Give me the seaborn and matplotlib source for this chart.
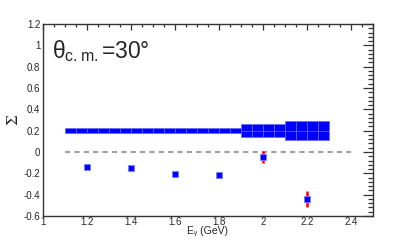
import numpy as np
import pandas as pd
import seaborn as sns
import matplotlib
matplotlib.use("Agg")
import matplotlib.pyplot as plt
from matplotlib.ticker import MultipleLocator

sns.set_theme(style="white")
plt.rcParams['font.family'] = ['Liberation Sans', 'DejaVu Sans']
plt.rcParams['mathtext.fontset'] = 'custom'
plt.rcParams['mathtext.rm'] = 'Liberation Sans'
plt.rcParams['mathtext.it'] = 'Liberation Sans:italic'

# measured beam-asymmetry points
e_gamma = [1.2, 1.4, 1.6, 1.8, 2.0, 2.2]
sigma = [-0.14, -0.15, -0.21, -0.22, -0.05, -0.44]
sigma_err = [0.02, 0.02, 0.02, 0.025, 0.055, 0.073]

# systematic band (segments)
band_lo = [1.1, 1.5, 1.9, 2.1]
band_hi = [1.5, 1.9, 2.1, 2.3]
band_center = [0.2, 0.2, 0.2, 0.2]
band_err = [0.022, 0.025, 0.058, 0.09]
band_bin = 0.05

df = pd.DataFrame({'E': e_gamma, 'Sigma': sigma, 'err': sigma_err})

fig = plt.figure(figsize=(4.15, 2.4), dpi=100)
ax = fig.add_axes([0.1036, 0.1, 0.7952, 0.8])

# systematic band drawn as small filled bins
for lo, hi, c, e in zip(band_lo, band_hi, band_center, band_err):
    lefts = np.arange(lo, hi - 1e-9, band_bin)
    ax.bar(lefts, 2 * e, width=band_bin, bottom=c - e, align='edge',
           color='#0000ff', edgecolor='#6868ff', linewidth=0.5, zorder=2)
ax.hlines(band_center[2], band_lo[2], band_hi[-1], color='#6868ff', lw=0.5, zorder=3)

# zero line
ax.hlines(0, band_lo[0], 2.4, color='#a0a0a0', lw=1.5, linestyles=(0, (2.5, 2)), zorder=1)

# data points
ax.errorbar(df['E'], df['Sigma'], yerr=df['err'], fmt='none',
            ecolor='#ff0000', elinewidth=1.8, capsize=0, zorder=4)
sns.scatterplot(data=df, x='E', y='Sigma', marker='s', s=24, color='#0000ff',
                edgecolor='#8080ff', linewidth=0.6, ax=ax, zorder=5)

ax.set_xlim(1.0, 2.5)
ax.set_ylim(-0.6, 1.2)
ax.xaxis.set_minor_locator(MultipleLocator(0.05))
ax.yaxis.set_minor_locator(MultipleLocator(0.04))
ax.set_xticks(np.arange(1.0, 2.41, 0.2))
ax.set_xticklabels(['1', '1.2', '1.4', '1.6', '1.8', '2', '2.2', '2.4'])
ax.set_yticks(np.arange(-0.6, 1.21, 0.2))
ax.set_yticklabels(['-0.6', '-0.4', '-0.2', '0', '0.2', '0.4', '0.6', '0.8', '1', '1.2'])

ax.tick_params(which='both', direction='in', top=True, right=True, labelsize=7,
               color='#333333', pad=2)
ax.tick_params(axis='x', pad=1)
ax.tick_params(axis='y', which='major', length=7, width=0.9)
ax.tick_params(axis='y', which='minor', length=3.5, width=0.9)
ax.tick_params(axis='x', which='major', length=4.5, width=0.9)
ax.tick_params(axis='x', which='minor', length=2.5, width=0.9)
for sp in ax.spines.values():
    sp.set_color('#333333')
    sp.set_linewidth(1.0)

ax.set_xlabel('Eᵧ (GeV)', fontsize=7.5, family=['Liberation Sans', 'DejaVu Sans'])
ax.xaxis.set_label_coords(0.5, -0.054)
ax.set_ylabel('Σ', fontsize=11, family=['DejaVu Serif'])
ax.yaxis.set_label_coords(-0.07, 0.5)
ax.text(0.028, 0.86, 'θ$_{\\rm c.m.}$=30°', transform=ax.transAxes,
        fontsize=16.5, va='center', ha='left')

fig.savefig('out.png', dpi=100)
